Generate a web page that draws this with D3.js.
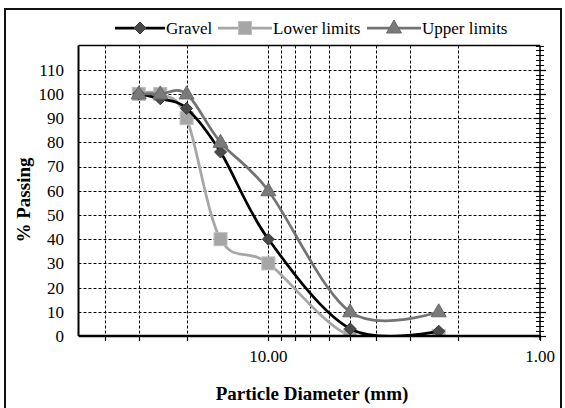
<!DOCTYPE html>
<html>
<head>
<meta charset="utf-8">
<script src="https://cdn.jsdelivr.net/npm/d3@7"></script>
<style>
  html, body { margin: 0; padding: 0; background: #fff; }
  svg { display: block; }
  text { font-family: "Liberation Serif", "Times New Roman", serif; fill: #000; }
</style>
</head>
<body>
<svg id="chart" width="565" height="408"></svg>
<script>
// ---- data ----
const sieveSizes = [30, 25, 20, 15, 10, 5, 2.36];
const gravel = [100, 98, 94, 76, 40, 3, 2];
const lowerLimits = [100, 100, 90, 40, 30, 0, 0];
const upperLimits = [100, 100, 100, 80, 60, 10, 10];
const seriesNames = ["Gravel", "Lower limits", "Upper limits"];
const yTicks = [0, 10, 20, 30, 40, 50, 60, 70, 80, 90, 100, 110];
const yMinorTicks = d3.range(0, 121, 2);
const xGridValues = [40, 30, 20, 10, 9, 8, 7, 6, 5, 4, 3, 2, 1];
const xLabelValues = [10, 1];

// ---- layout ----
const svg = d3.select("#chart");
const plot = { left: 78.5, right: 540, top: 45.5, bottom: 336 };

const x = d3.scaleLog().domain([50, 1]).range([plot.left, plot.right]);
const y = d3.scaleLinear().domain([0, 120]).range([plot.bottom, plot.top]);

// outer frame
svg.append("rect")
  .attr("x", 5).attr("y", 9).attr("width", 556).attr("height", 410)
  .attr("fill", "none").attr("stroke", "#111").attr("stroke-width", 2);

// clip
svg.append("clipPath").attr("id", "clip")
  .append("rect")
  .attr("x", plot.left).attr("y", 0)
  .attr("width", plot.right - plot.left + 10).attr("height", plot.bottom + 1);

// gridlines
const grid = svg.append("g").attr("stroke", "#000").attr("stroke-width", 1)
  .attr("stroke-dasharray", "3,2");
grid.selectAll("line.h").data(yTicks.filter(d => d > 0)).join("line")
  .attr("x1", plot.left).attr("x2", plot.right)
  .attr("y1", d => Math.round(y(d)) + 0.5).attr("y2", d => Math.round(y(d)) + 0.5);
grid.selectAll("line.v").data(xGridValues.filter(d => d > 1)).join("line")
  .attr("x1", d => Math.round(x(d)) + 0.5).attr("x2", d => Math.round(x(d)) + 0.5)
  .attr("y1", plot.top).attr("y2", plot.bottom);

// series
const curve = d3.curveCardinal.tension(0);
const line = d3.line().x(d => x(d[0])).y(d => y(d[1])).curve(curve);
const seriesDefs = [
  { name: seriesNames[1], values: lowerLimits, stroke: "#a6a6a6", fill: "#a6a6a6", mStroke: "#bdbdbd", symbol: "square" },
  { name: seriesNames[0], values: gravel, stroke: "#000", fill: "#4a4a4a", mStroke: "#3a3a3a", symbol: "diamond" },
  { name: seriesNames[2], values: upperLimits, stroke: "#737373", fill: "#7a7a7a", mStroke: "#6a6a6a", symbol: "triangle" }
];

function drawSymbol(g, type, cx, cy, fill, stroke) {
  if (type === "square") {
    g.append("rect").attr("x", cx - 6.5).attr("y", cy - 6.5).attr("width", 13).attr("height", 13)
      .attr("fill", fill).attr("stroke", stroke).attr("stroke-width", 1);
  } else if (type === "diamond") {
    g.append("path").attr("d", `M${cx},${cy - 6}L${cx + 6},${cy}L${cx},${cy + 6}L${cx - 6},${cy}Z`)
      .attr("fill", fill).attr("stroke", stroke).attr("stroke-width", 1);
  } else {
    g.append("path").attr("d", `M${cx},${cy - 8}L${cx + 7.5},${cy + 5}L${cx - 7.5},${cy + 5}Z`)
      .attr("fill", fill).attr("stroke", stroke).attr("stroke-width", 1);
  }
}

seriesDefs.forEach(s => {
  const pts = sieveSizes.map((d, i) => [d, s.values[i]]);
  const g = svg.append("g").attr("clip-path", "url(#clip)");
  g.append("path").attr("d", line(pts)).attr("fill", "none")
    .attr("stroke", s.stroke).attr("stroke-width", 2.75);
  pts.forEach(p => drawSymbol(g, s.symbol, x(p[0]), y(p[1]), s.fill, s.mStroke));
});

// plot borders
svg.append("line").attr("x1", plot.left).attr("x2", plot.right)
  .attr("y1", plot.top).attr("y2", plot.top).attr("stroke", "#000").attr("stroke-width", 1.5);
svg.append("line").attr("x1", plot.left).attr("x2", plot.left)
  .attr("y1", plot.top).attr("y2", plot.bottom).attr("stroke", "#000").attr("stroke-width", 2);

// right axis with cross ticks
const ra = svg.append("g").attr("stroke", "#000");
ra.append("line").attr("x1", plot.right).attr("x2", plot.right)
  .attr("y1", plot.top).attr("y2", plot.bottom + 4).attr("stroke-width", 1.5);
ra.selectAll("line.mn").data(yMinorTicks).join("line")
  .attr("x1", plot.right - 4).attr("x2", plot.right + 4)
  .attr("y1", d => Math.round(y(d)) + 0.5).attr("y2", d => Math.round(y(d)) + 0.5)
  .attr("stroke-width", 1);
ra.selectAll("line.mj").data(yTicks).join("line")
  .attr("x1", plot.right - 6).attr("x2", plot.right + 6)
  .attr("y1", d => Math.round(y(d)) + 0.5).attr("y2", d => Math.round(y(d)) + 0.5)
  .attr("stroke-width", 1.2);

// bottom axis
const ba = svg.append("g").attr("stroke", "#000");
ba.append("line").attr("x1", plot.left).attr("x2", plot.right + 1)
  .attr("y1", plot.bottom).attr("y2", plot.bottom).attr("stroke-width", 2.5);
ba.selectAll("line.t").data(xGridValues).join("line")
  .attr("x1", d => Math.round(x(d)) + 0.5).attr("x2", d => Math.round(x(d)) + 0.5)
  .attr("y1", plot.bottom).attr("y2", plot.bottom + 5).attr("stroke-width", 1.2);

// y tick labels
svg.append("g").selectAll("text").data(yTicks).join("text")
  .attr("x", 64).attr("y", d => y(d)).attr("dy", "0.35em")
  .attr("text-anchor", "end").attr("font-size", 17)
  .text(d => d);

// x tick labels
svg.append("g").selectAll("text").data(xLabelValues).join("text")
  .attr("x", d => x(d)).attr("y", 356).attr("dy", "0.35em")
  .attr("text-anchor", "middle").attr("font-size", 17)
  .text(d => d3.format(".2f")(d));

// axis titles
svg.append("text").attr("x", 312).attr("y", 393).attr("dy", "0.35em")
  .attr("text-anchor", "middle").attr("font-size", 19).attr("font-weight", "bold")
  .text("Particle Diameter (mm)");
svg.append("text").attr("transform", "translate(23,200) rotate(-90)").attr("dy", "0.35em")
  .attr("text-anchor", "middle").attr("font-size", 19).attr("font-weight", "bold")
  .text("% Passing");

// legend
const legendItems = [
  { name: seriesNames[0], x1: 115, x2: 165, stroke: "#000", fill: "#4a4a4a", mStroke: "#3a3a3a", symbol: "diamond" },
  { name: seriesNames[1], x1: 218, x2: 272, stroke: "#a6a6a6", fill: "#a6a6a6", mStroke: "#bdbdbd", symbol: "square" },
  { name: seriesNames[2], x1: 367, x2: 421, stroke: "#737373", fill: "#7a7a7a", mStroke: "#6a6a6a", symbol: "triangle" }
];
const ly = 28;
legendItems.forEach(it => {
  const g = svg.append("g");
  g.append("line").attr("x1", it.x1).attr("x2", it.x2).attr("y1", ly).attr("y2", ly)
    .attr("stroke", it.stroke).attr("stroke-width", 2.75);
  drawSymbol(g, it.symbol, (it.x1 + it.x2) / 2, ly, it.fill, it.mStroke);
  g.append("text").attr("x", it.x2 + 1).attr("y", ly).attr("dy", "0.35em")
    .attr("font-size", 17).text(it.name);
});
</script>
</body>
</html>
